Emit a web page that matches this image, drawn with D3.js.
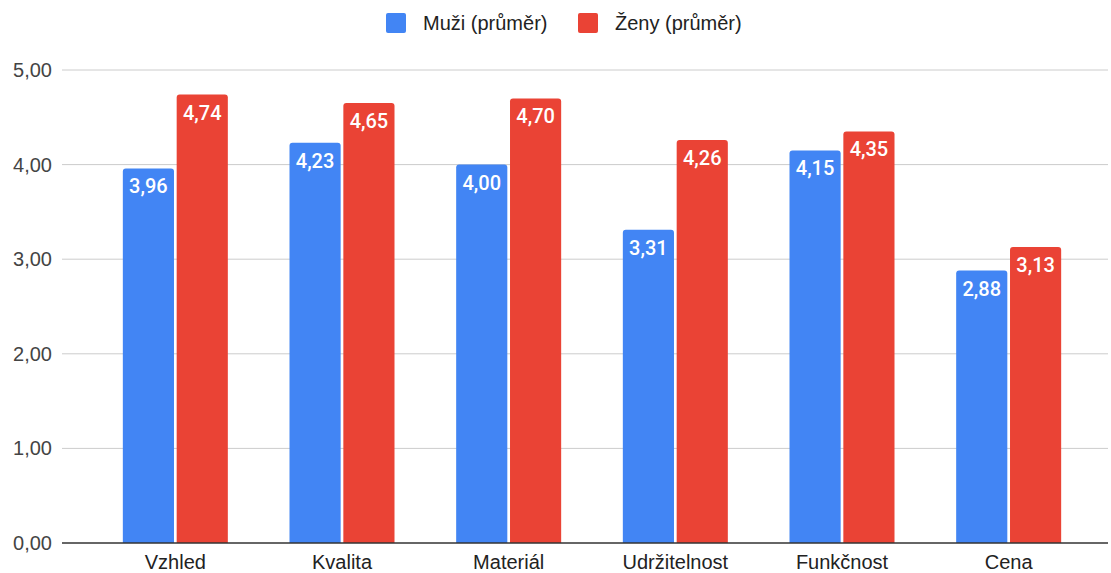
<!DOCTYPE html>
<html>
<head>
<meta charset="utf-8">
<script src="https://cdn.jsdelivr.net/npm/d3@7"></script>
<style>
  body { margin: 0; background: #fff; }
  svg { font-family: "Liberation Sans", Arial, sans-serif; }
</style>
</head>
<body>
<div class="svg-container"></div>
<script>
const categories = ["Vzhled", "Kvalita", "Materiál", "Udržitelnost", "Funkčnost", "Cena"];
const seriesNames = ["Muži (průměr)", "Ženy (průměr)"];
const muzi = [3.96, 4.23, 4.00, 3.31, 4.15, 2.88];
const zeny = [4.74, 4.65, 4.70, 4.26, 4.35, 3.13];
const yTicks = [0, 1, 2, 3, 4, 5];
const colors = ["#4285F4", "#EA4335"];

const width = 1111, height = 573;
const svg = d3.select("div.svg-container").append("svg")
    .attr("width", width)
    .attr("height", height);

const gridLeft = 62, gridRight = 1108;
const y = d3.scaleLinear().domain([0, 5]).range([543, 70]);
const x = d3.scaleBand().domain(categories).range([92, 1092]).paddingInner(0.37).paddingOuter(0.185);
const xs = d3.scaleBand().domain(seriesNames).range([0, x.bandwidth()]).paddingInner(0.05);

const fmt = v => d3.format(".2f")(v).replace(".", ",");

// gridlines
svg.append("g").selectAll("line")
    .data(yTicks.slice(1))
    .join("line")
    .attr("x1", gridLeft).attr("x2", gridRight)
    .attr("y1", d => y(d)).attr("y2", d => y(d))
    .attr("stroke", "#cccccc").attr("stroke-width", 1);

// y axis labels
const yAxis = d3.axisLeft(y).tickValues(yTicks).tickSize(0).tickFormat(fmt);
const yAxisG = svg.append("g")
    .attr("transform", `translate(${gridLeft - 7},0)`)
    .call(yAxis);
yAxisG.select(".domain").remove();
yAxisG.selectAll("text")
    .attr("font-size", 20).attr("fill", "#444").attr("font-family", "Liberation Sans, Arial, sans-serif");

// bars
const data = categories.map((c, i) => ({ cat: c, values: [muzi[i], zeny[i]] }));
const groups = svg.append("g").selectAll("g")
    .data(data)
    .join("g")
    .attr("transform", d => `translate(${x(d.cat)},0)`);

groups.selectAll("path")
    .data(d => d.values.map((v, j) => ({ v, name: seriesNames[j], j })))
    .join("path")
    .attr("fill", d => colors[d.j])
    .attr("d", d => {
        const x0 = xs(d.name), w = xs.bandwidth(), t = y(d.v), b = y(0), r = 3;
        return `M${x0},${b}V${t + r}Q${x0},${t} ${x0 + r},${t}H${x0 + w - r}Q${x0 + w},${t} ${x0 + w},${t + r}V${b}Z`;
    });

groups.selectAll("text")
    .data(d => d.values.map((v, j) => ({ v, name: seriesNames[j], j })))
    .join("text")
    .attr("x", d => xs(d.name) + xs.bandwidth() / 2)
    .attr("y", d => y(d.v) + 25)
    .attr("text-anchor", "middle")
    .attr("fill", "#fff")
    .attr("font-size", 20)
    .attr("font-family", "Roboto, sans-serif")
    .attr("font-weight", 500)
    .text(d => fmt(d.v));

// baseline
svg.append("line")
    .attr("x1", gridLeft).attr("x2", gridRight)
    .attr("y1", y(0)).attr("y2", y(0))
    .attr("stroke", "#333").attr("stroke-width", 1.5);

// x axis labels
const xAxis = d3.axisBottom(x).tickSize(0);
const xAxisG = svg.append("g")
    .attr("transform", `translate(0,${y(0) + 9})`)
    .call(xAxis);
xAxisG.select(".domain").remove();
xAxisG.selectAll("text")
    .attr("font-size", 20).attr("fill", "#222").attr("font-family", "Liberation Sans, Arial, sans-serif");

// legend
const legendX = [386, 578];
const legend = svg.append("g").selectAll("g")
    .data(seriesNames)
    .join("g")
    .attr("transform", (d, i) => `translate(${legendX[i]},13)`);
legend.append("rect")
    .attr("width", 20).attr("height", 20).attr("rx", 2)
    .attr("fill", (d, i) => colors[i]);
legend.append("text")
    .attr("x", 37).attr("y", 17)
    .attr("font-size", 20).attr("fill", "#222")
    .text(d => d);
</script>
</body>
</html>
